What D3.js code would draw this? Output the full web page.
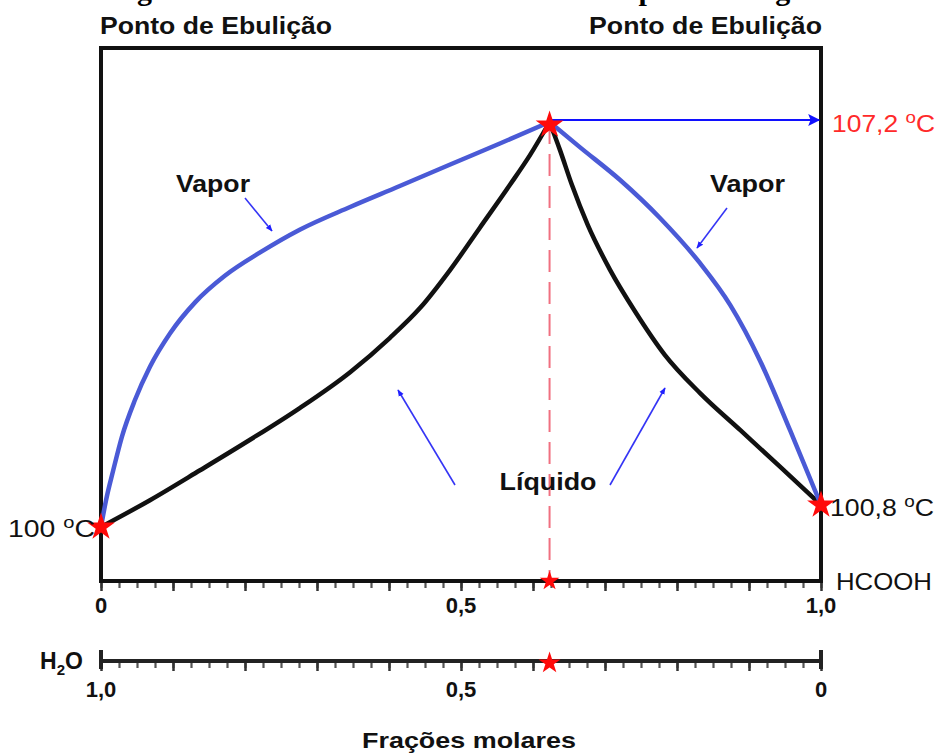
<!DOCTYPE html>
<html>
<head>
<meta charset="utf-8">
<script src="https://cdn.jsdelivr.net/npm/d3@7"></script>
<style>
  html, body { margin: 0; padding: 0; background: #fff; }
  svg { display: block; }
  text { font-family: "Liberation Sans", Arial, sans-serif; }
</style>
</head>
<body>
<svg id="chart" width="937" height="753"></svg>
<script>
// Mole fraction of HCOOH (x) and boiling temperature in °C (T)
const vaporLeft = [
  [0, 100], [0.007, 100.88], [0.017, 101.38], [0.029, 101.94], [0.047, 102.55],
  [0.068, 103.11], [0.096, 103.67], [0.131, 104.19], [0.172, 104.63], [0.221, 105.02],
  [0.276, 105.40], [0.346, 105.78], [0.415, 106.13], [0.485, 106.49], [0.554, 106.84],
  [0.623, 107.2]
];
const liquidLeft = [
  [0, 100], [0.068, 100.88], [0.1375, 101.38], [0.207, 101.89], [0.276, 102.42],
  [0.346, 103.02], [0.401, 103.59], [0.443, 104.09], [0.485, 104.73], [0.526, 105.43],
  [0.568, 106.15], [0.596, 106.65], [0.623, 107.2]
];
const liquidRight = [
  [0.623, 107.2], [0.6375, 106.73], [0.654, 106.15], [0.676, 105.48], [0.707, 104.73],
  [0.742, 104.03], [0.783, 103.31], [0.832, 102.67], [0.888, 102.05], [0.943, 101.44],
  [1.0, 100.8]
];
const vaporRight = [
  [0.623, 107.2], [0.665, 106.78], [0.721, 106.23], [0.776, 105.60], [0.832, 104.84],
  [0.874, 104.14], [0.915, 103.22], [0.957, 102.05], [1.0, 100.8]
];
// Boiling points: water, formic acid, azeotrope
const boilWater = 100;
const boilAcid = 100.8;
const azeo = { x: 0.623, T: 107.2 };

const majorLabelsAcid = [0, 0.5, 1.0];
const majorLabelsWater = [1.0, 0.5, 0];
const fmt = d => d === 0 ? "0" : d3.format(".1f")(d).replace(".", ",");

const svg = d3.select("#chart");

const plotL = 101, plotR = 821, plotT = 48, plotB = 581;
const x = d3.scaleLinear().domain([0, 1]).range([plotL, plotR]);
const xWater = d3.scaleLinear().domain([1, 0]).range([plotL, plotR]);
// Temperature axis is schematic: piecewise between the three boiling points
const y = d3.scaleLinear().domain([100, 100.8, 107.2]).range([527, 505, 122]);

// Heading, mostly above the top edge of the page
svg.append("text")
  .attr("x", 92).attr("y", 0)
  .style("font-family", "'Liberation Serif', 'Times New Roman', serif")
  .style("font-weight", "bold").style("font-size", "30px")
  .text("Diagrama de fases de uma mistura azeotrópica com água");

// Arrow markers
const defs = svg.append("defs");
defs.append("marker").attr("id", "ah").attr("viewBox", "0 0 10 10")
  .attr("refX", 9).attr("refY", 5).attr("markerWidth", 7).attr("markerHeight", 7)
  .attr("markerUnits", "userSpaceOnUse").attr("orient", "auto")
  .append("path").attr("d", "M0,1 L10,5 L0,9 Z").attr("fill", "#2020ff");
defs.append("marker").attr("id", "ahBig").attr("viewBox", "0 0 10 10")
  .attr("refX", 9).attr("refY", 5).attr("markerWidth", 16).attr("markerHeight", 12)
  .attr("markerUnits", "userSpaceOnUse").attr("orient", "auto")
  .append("path").attr("d", "M0,0 L10,5 L0,10 L2,5 Z").attr("fill", "#1010ff");

// Axes: minor ticks every 0.025, longer ticks every 0.1
const minorTicks = d3.range(0, 1.0001, 0.025);
const majorTicks = d3.range(0, 1.0001, 0.1);

function tickAxis(g, scale, yPos) {
  g.attr("transform", `translate(0,${yPos})`);
  g.append("g").call(d3.axisBottom(scale).tickValues(minorTicks).tickSize(7).tickFormat(""))
    .call(a => a.select(".domain").remove())
    .call(a => a.selectAll("line").attr("stroke", "#555").attr("stroke-width", 2.2));
  g.append("g").call(d3.axisBottom(scale).tickValues(majorTicks).tickSize(10).tickFormat(""))
    .call(a => a.select(".domain").remove())
    .call(a => a.selectAll("line").attr("stroke", "#333").attr("stroke-width", 2.5));
}

tickAxis(svg.append("g"), x, plotB);
tickAxis(svg.append("g"), xWater, 661);

// Lower (water) axis line with end bars
svg.append("line").attr("x1", plotL).attr("x2", plotR).attr("y1", 661).attr("y2", 661)
  .attr("stroke", "#222").attr("stroke-width", 4);
[plotL, plotR].forEach(px => svg.append("line")
  .attr("x1", px).attr("x2", px).attr("y1", 650).attr("y2", 669)
  .attr("stroke", "#222").attr("stroke-width", 4));

// Frame
svg.append("rect").attr("x", plotL).attr("y", plotT)
  .attr("width", plotR - plotL).attr("height", plotB - plotT)
  .attr("fill", "none").attr("stroke", "#111").attr("stroke-width", 4);

// Dashed azeotrope line
svg.append("line")
  .attr("x1", x(azeo.x)).attr("x2", x(azeo.x))
  .attr("y1", y(azeo.T)).attr("y2", plotB)
  .attr("stroke", "#f07080").attr("stroke-width", 2).attr("stroke-dasharray", "22,10");

// Curves
const line = d3.line().x(d => x(d[0])).y(d => y(d[1])).curve(d3.curveMonotoneX);
[[liquidLeft, "#111"], [liquidRight, "#111"], [vaporLeft, "#4a5ad6"], [vaporRight, "#4a5ad6"]]
  .forEach(([data, color]) => svg.append("path").datum(data)
    .attr("d", line).attr("fill", "none").attr("stroke", color)
    .attr("stroke-width", 4.5).attr("stroke-linecap", "round"));

// Horizontal arrow to the azeotrope temperature
svg.append("line")
  .attr("x1", x(azeo.x)).attr("x2", plotR - 2)
  .attr("y1", y(azeo.T) - 2).attr("y2", y(azeo.T) - 2)
  .attr("stroke", "#1010ff").attr("stroke-width", 1.8).attr("marker-end", "url(#ahBig)");

// Pointer arrows
const pointers = [
  [245, 198, 272, 231], [727, 208, 697, 248],
  [455, 485, 398, 390], [610, 485, 665, 388]
];
pointers.forEach(([x1, y1, x2, y2]) => svg.append("line")
  .attr("x1", x1).attr("y1", y1).attr("x2", x2).attr("y2", y2)
  .attr("stroke", "#3535f5").attr("stroke-width", 1.6).attr("marker-end", "url(#ah)"));

// Stars
const star = d3.symbol(d3.symbolStar);
const stars = [
  [x(0), y(boilWater), 240], [x(1), y(boilAcid), 240], [x(azeo.x), y(azeo.T) + 3, 240],
  [x(azeo.x), plotB, 120], [xWater(1 - azeo.x), 663, 150]
];
stars.forEach(([sx, sy, s]) => svg.append("path")
  .attr("d", star.size(s)()).attr("transform", `translate(${sx},${sy})`)
  .attr("fill", "#ff0a0a"));

// Text helpers
function label(txt, px, py, opts = {}) {
  const t = svg.append("text").attr("x", px).attr("y", py)
    .style("font-size", (opts.size || 24) + "px")
    .style("font-weight", opts.bold ? "bold" : "normal")
    .attr("fill", opts.color || "#111")
    .attr("text-anchor", opts.anchor || "start");
  if (opts.width) t.attr("textLength", opts.width).attr("lengthAdjust", "spacingAndGlyphs");
  t.text(txt);
  return t;
}

label("Ponto de Ebulição", 100, 34, { bold: true, size: 23, width: 232 });
label("Ponto de Ebulição", 822, 34, { bold: true, size: 23, width: 233, anchor: "end" });

label("Vapor", 176, 192, { bold: true, size: 24, width: 74 });
label("Vapor", 710, 192, { bold: true, size: 24, width: 75 });
label("Líquido", 548, 490, { bold: true, size: 24, width: 97, anchor: "middle" });

function degLabel(prefix, px, py, color, width) {
  const t = svg.append("text").attr("x", px).attr("y", py)
    .style("font-size", "24px").attr("fill", color);
  t.append("tspan").text(prefix);
  t.append("tspan").attr("dy", -9).style("font-size", "17px").text("o");
  t.append("tspan").attr("dy", 9).text("C");
  if (width) t.attr("textLength", width).attr("lengthAdjust", "spacingAndGlyphs");
}
degLabel("107,2 ", 832, y(azeo.T) + 10, "#ff2a2a", 103);
degLabel("100 ", 8, y(boilWater) + 10, "#111", 87);
degLabel("100,8 ", 830, y(boilAcid) + 11, "#111", 104);

label("HCOOH", 836, 590, { size: 24, width: 96 });

// Tick labels
majorLabelsAcid.forEach(v => label(fmt(v), x(v), 613, { bold: true, size: 22, anchor: "middle" }));
majorLabelsWater.forEach(v => label(fmt(v), xWater(v), 697, { bold: true, size: 22, anchor: "middle" }));

// H2O with subscript
const h2o = svg.append("text").attr("x", 40).attr("y", 669)
  .style("font-size", "23px").style("font-weight", "bold").attr("fill", "#111");
h2o.append("tspan").text("H");
h2o.append("tspan").attr("dy", 6).style("font-size", "15px").text("2");
h2o.append("tspan").attr("dy", -6).text("O");

label("Frações molares", 469, 748, { bold: true, size: 22, width: 214, anchor: "middle" });
</script>
</body>
</html>
